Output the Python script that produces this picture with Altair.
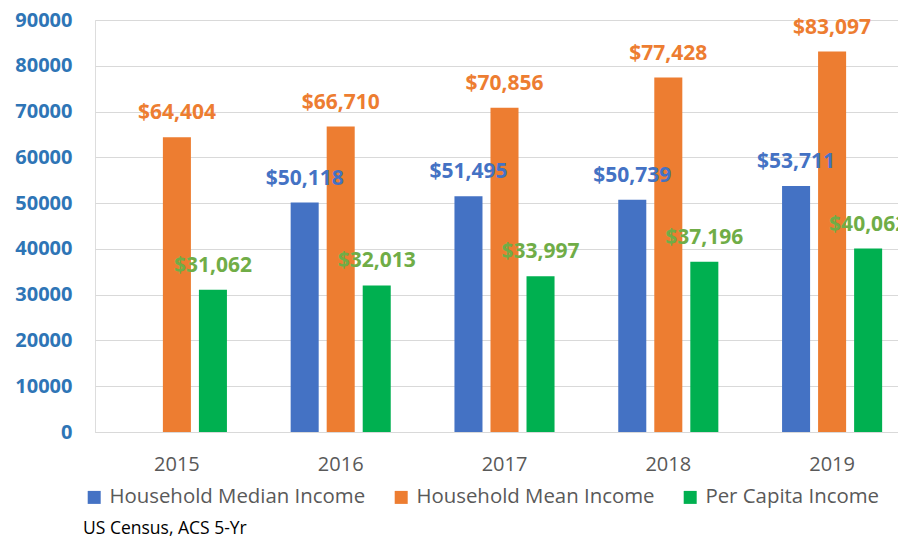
import altair as alt
import pandas as pd

years = ["2015", "2016", "2017", "2018", "2019"]
series = ["Household Median Income", "Household Mean Income", "Per Capita Income"]
median_income = [None, 50118, 51495, 50739, 53711]
mean_income = [64404, 66710, 70856, 77428, 83097]
per_capita_income = [31062, 32013, 33997, 37196, 40062]
y_ticks = [0, 10000, 20000, 30000, 40000, 50000, 60000, 70000, 80000, 90000]

bar_colors = ["#4472C4", "#ED7D31", "#00B050"]
label_colors = ["#4472C4", "#ED7D31", "#70AD47"]

rows = []
for name, vals in zip(series, [median_income, mean_income, per_capita_income]):
    for yr, v in zip(years, vals):
        if v is not None:
            rows.append({"Year": yr, "Series": name, "Value": v, "LabelSeries": name})
df = pd.DataFrame(rows)

FONT = "Open Sans"

x_enc = alt.X("Year:N", sort=years, title=None,
              scale=alt.Scale(range=[0, 819], paddingInner=0.389, paddingOuter=0.1945),
              axis=alt.Axis(labelAngle=0, labelFontSize=20, labelColor="#595959",
                            labelFont=FONT, ticks=False, tickSize=0, labelPadding=22,
                            domainColor="#d9d9d9", domainWidth=1, grid=False))
xo_enc = alt.XOffset("Series:N", sort=series,
                     scale=alt.Scale(domain=series, paddingInner=0.222, paddingOuter=0))
y_enc = alt.Y("Value:Q", title=None,
              scale=alt.Scale(domain=[0, 90000], nice=False),
              axis=alt.Axis(values=y_ticks, format="d", labelFontSize=20, labelFontWeight="bold",
                            labelColor="#2E75B6", labelFont=FONT, ticks=False, tickSize=0,
                            labelPadding=23, domain=False, grid=True, gridColor="#d9d9d9",
                            gridWidth=1))

bars = alt.Chart(df).mark_bar().encode(
    x=x_enc,
    xOffset=xo_enc,
    y=y_enc,
    color=alt.Color("Series:N", sort=series,
                    scale=alt.Scale(domain=series, range=bar_colors),
                    legend=alt.Legend(title=None, orient="none", direction="horizontal",
                                      columns=3, legendX=-11, legendY=467,
                                      symbolType="square", symbolSize=169,
                                      symbolStrokeWidth=0, labelFontSize=20.4,
                                      labelFont=FONT, labelColor="#595959",
                                      labelLimit=0, labelOffset=5, columnPadding=25)),
)

labels = alt.Chart(df).mark_text(baseline="alphabetic", dy=-18, fontSize=21,
                                 fontWeight="bold", font=FONT).encode(
    x=x_enc,
    xOffset=xo_enc,
    y=y_enc,
    text=alt.Text("Value:Q", format="$,.0f"),
    color=alt.Color("LabelSeries:N", sort=series,
                    scale=alt.Scale(domain=series, range=label_colors), legend=None),
)

chart = (alt.layer(bars, labels)
         .resolve_scale(color="independent")
         .properties(width=803, height=412,
                     autosize=alt.AutoSizeParams(type="none"),
                     padding={"left": 87, "top": 12, "right": 0, "bottom": 106},
                     title=alt.TitleParams("US Census, ACS 5-Yr", orient="bottom",
                                           anchor="start", frame="group", fontSize=17.5,
                                           fontWeight="normal", font=FONT, color="#000000",
                                           dx=-12, offset=12))
         .configure_view(stroke=None)
         .configure(background="white"))

chart.save("out.html", embed_options={"renderer": "svg", "actions": False})
